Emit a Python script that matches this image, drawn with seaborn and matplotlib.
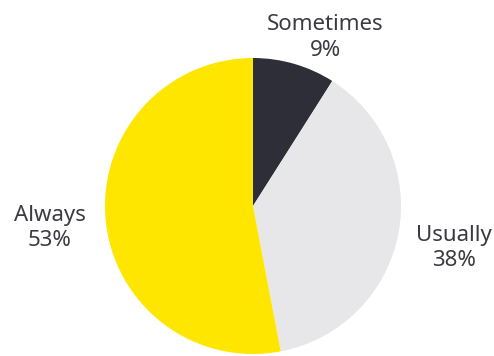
import matplotlib
matplotlib.use("Agg")
import matplotlib.pyplot as plt
import numpy as np
import seaborn as sns

categories = ["Sometimes", "Usually", "Always"]
shares = [9, 38, 53]
colors = ["#2e2e38", "#e7e7ea", "#ffe600"]

sns.set_theme(style="white")
plt.rcParams["font.family"] = ["Noto Sans", "DejaVu Sans"]

fig = plt.figure(figsize=(4.94, 3.56), dpi=100)
ax = fig.add_axes([0, 0, 1, 1])

wedges, _ = ax.pie(shares, colors=colors, startangle=90, counterclock=False,
                   radius=1.0, wedgeprops=dict(linewidth=0))

# label placement: distance from centre and small angular nudge per slice
label_dist = [1.24, 1.39, 1.38]
label_nudge = [-7.0, -1.0, 0.8]
for w, cat, val, d, nudge in zip(wedges, categories, shares, label_dist, label_nudge):
    mid = np.deg2rad((w.theta1 + w.theta2) / 2 + nudge)
    ax.text(d * np.cos(mid), d * np.sin(mid), f"{cat}\n{val}%",
            ha="center", va="center", fontsize=16, color="#3a3a42",
            linespacing=1.28)

ax.set_xlim(-253 / 148, (494 - 253) / 148)
ax.set_ylim(-150 / 148, 206 / 148)
ax.set_aspect("equal")
ax.axis("off")

fig.savefig("out.png", dpi=100, facecolor="white")
